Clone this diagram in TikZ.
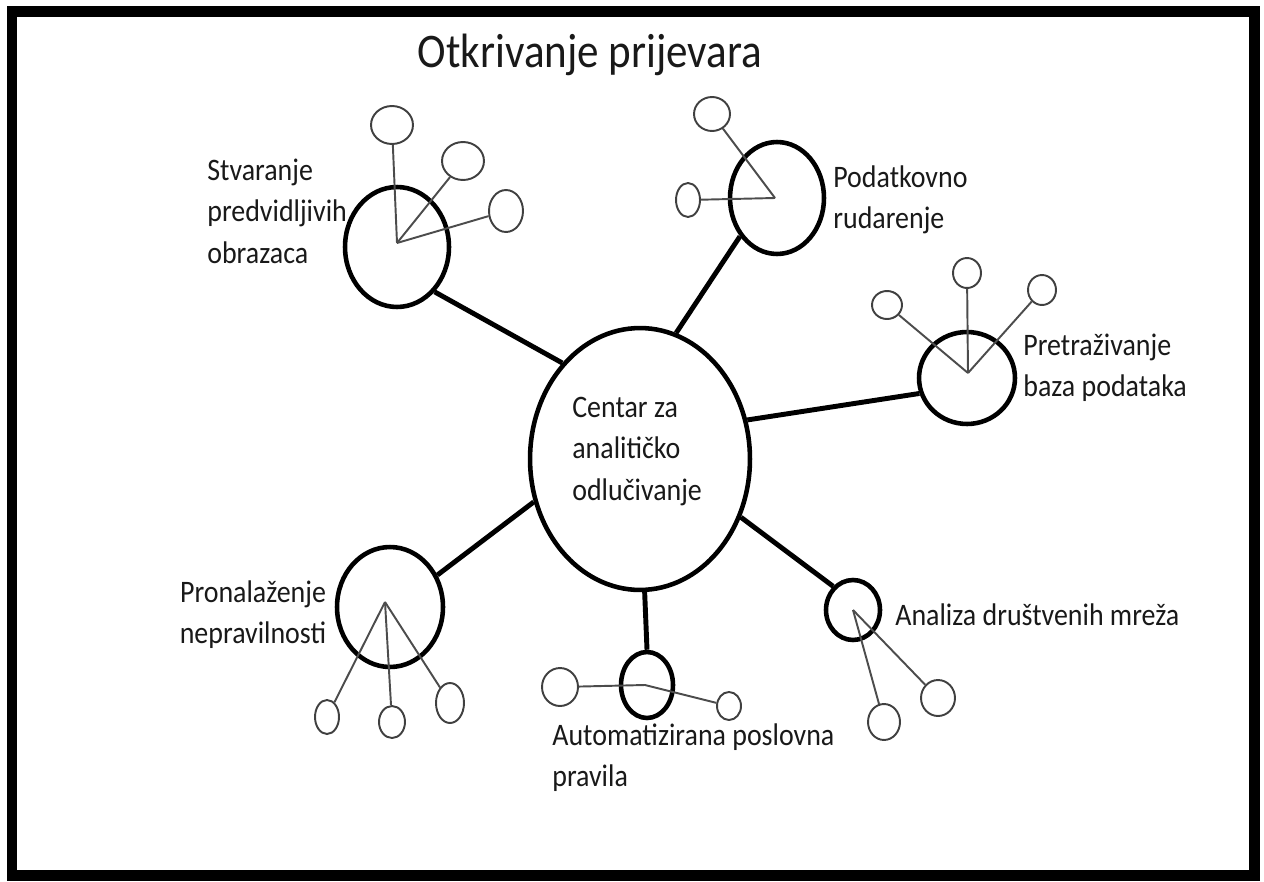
\documentclass[tikz,border=0pt]{standalone}
\usepackage{fontspec}
\usepackage{graphicx}
\setmainfont{Carlito}
\usetikzlibrary{shapes.geometric}
\newcommand\tallbox[1]{\scalebox{1}[1.12]{#1}}
\newcommand\lines[2]{\tallbox{\begin{tabular}[t]{@{}#1@{}}#2\end{tabular}}}
\begin{document}
\begin{tikzpicture}[x=0.02cm,y=-0.02cm,
  ell/.style 2 args={minimum width=#1*0.04cm, minimum height=#2*0.04cm},
  big/.style={draw, ellipse, line width=2.6pt, inner sep=0pt},
  small/.style={draw=black!75, ellipse, line width=1.1pt, inner sep=0pt},
  link/.style={line width=2.8pt},
  twig/.style={draw=black!70, line width=1.1pt},
  txt/.style={font=\fontsize{15.9}{21.1}\selectfont, text=black!90, inner sep=0pt},
  lbl/.style={txt, anchor=base west}]
\useasboundingbox (0,0) rectangle (1264,882);
\draw[line width=6.26pt] (12,12) rectangle (1254,875);
\node[font=\fontsize{24.5}{29}\selectfont, text=black!90, anchor=base] (title) at (590,68) {\tallbox{Otkrivanje prijevara}};

% centre
\node[big, ell={110}{131}] (cen) at (640,459) {};
\node[lbl] (cent) at (572,417) {\lines{l}{Centar za\\analitičko\\odlučivanje}};

% Stvaranje predvidljivih obrazaca
\node[big, ell={52}{60}] (stv) at (397,247) {};
\coordinate (stvh) at (397,243);
\node[small, ell={21}{19}] (s1) at (392,125) {};
\node[small, ell={21}{19}] (s2) at (463,161) {};
\node[small, ell={17}{21}] (s3) at (506,211) {};
\draw[twig] (stvh) -- (s1);
\draw[twig] (stvh) -- (s2);
\draw[twig] (stvh) -- (s3);
\node[lbl] (stvl) at (207,180) {\lines{l}{Stvaranje\\predvidljivih\\obrazaca}};

% Podatkovno rudarenje
\node[big, ell={47}{56}] (pod) at (777,198) {};
\coordinate (podh) at (775,198);
\node[small, ell={18}{17}] (p1) at (712,114) {};
\node[small, ell={12}{17}] (p2) at (688,200) {};
\draw[twig] (podh) -- (p1);
\draw[twig] (podh) -- (p2);
\node[lbl] (podl) at (833,187) {\lines{l}{Podatkovno\\rudarenje}};

% Pretrazivanje baza podataka
\node[big, ell={48}{46}] (pre) at (967,378) {};
\coordinate (preh) at (968,373);
\node[small, ell={15}{14}] (r1) at (887,305) {};
\node[small, ell={14}{15}] (r2) at (967,273) {};
\node[small, ell={14}{15}] (r3) at (1042,290) {};
\draw[twig] (preh) -- (r1);
\draw[twig] (preh) -- (r2);
\draw[twig] (preh) -- (r3);
\node[lbl] (prel) at (1023,355) {\lines{l}{Pretraživanje\\baza podataka}};

% Pronalazenje nepravilnosti
\node[big, ell={53}{60}] (pro) at (390,607) {};
\coordinate (proh) at (385,602);
\node[small, ell={12}{17}] (n1) at (327,717) {};
\node[small, ell={13}{16}] (n2) at (392,722) {};
\node[small, ell={14}{20}] (n3) at (450,703) {};
\draw[twig] (proh) -- (n1);
\draw[twig] (proh) -- (n2);
\draw[twig] (proh) -- (n3);
\node[txt, anchor=base] (prol) at (253,602) {\lines{c}{Pronalaženje\\nepravilnosti}};

% Automatizirana poslovna pravila
\node[big, ell={26}{33}] (aut) at (647,685) {};
\coordinate (auth) at (645,685);
\node[small, ell={18}{19}] (a1) at (560,687) {};
\node[small, ell={12}{14}] (a2) at (729,706) {};
\draw[twig] (auth) -- (a1);
\draw[twig] (auth) -- (a2);
\node[lbl] (autl) at (552,745) {\lines{l}{Automatizirana poslovna\\pravila}};

% Analiza drustvenih mreza
\node[big, ell={27}{30}] (ana) at (853,610) {};
\coordinate (anah) at (853,610);
\node[small, ell={16}{18}] (d1) at (884,722) {};
\node[small, ell={17}{18}] (d2) at (938,698) {};
\draw[twig] (anah) -- (d1);
\draw[twig] (anah) -- (d2);
\node[lbl] (anal) at (895,625) {\tallbox{Analiza društvenih mreža}};

% connectors
\draw[link] (stv.-50) -- (cen.129);
\draw[link] (pod.226) -- (cen.74);
\draw[link] (cen.20) -- (pre.198);
\draw[link] (cen.202) -- (pro.34);
\draw[link] (cen.-88) -- (aut.north);
\draw[link] (cen.-30) -- (ana.130);
\end{tikzpicture}
\end{document}
